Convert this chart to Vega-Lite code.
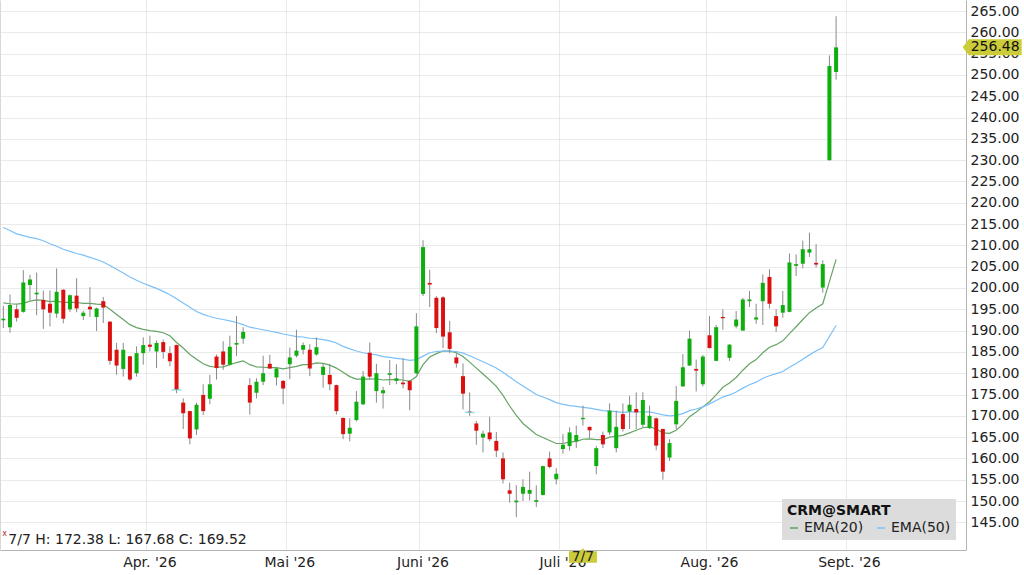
{
  "$schema": "https://vega.github.io/schema/vega-lite/v6.json",
  "width": 966,
  "height": 550,
  "autosize": "none",
  "padding": {"left": 0, "top": 0, "right": 58, "bottom": 25},
  "background": "white",
  "config": {
    "font": "DejaVu Sans",
    "view": {"stroke": null},
    "legend": {
      "orient": "bottom-right", "direction": "horizontal", "fillColor": "#dcdcdc",
      "padding": 5, "offset": 10, "symbolType": "stroke", "symbolSize": 64,
      "symbolStrokeWidth": 1.5, "labelFontSize": 14, "titleFontSize": 14,
      "titleFontWeight": "bold", "labelColor": "#222", "titleColor": "#111",
      "columnPadding": 10, "titlePadding": 3, "labelOffset": 3
    }
  },
  "datasets": {
    "px": [
      {"d": "2026-03-02", "o": 192.4, "h": 195.8, "l": 190.6, "c": 192.8, "e20": 196.5, "e50": 214.2},
      {"d": "2026-03-03", "o": 190.8, "h": 198.5, "l": 189.5, "c": 196.0, "e20": 196.3, "e50": 213.5},
      {"d": "2026-03-04", "o": 195.0, "h": 196.1, "l": 192.1, "c": 193.0, "e20": 196.2, "e50": 212.7},
      {"d": "2026-03-05", "o": 194.4, "h": 204.2, "l": 194.2, "c": 201.3, "e20": 196.4, "e50": 212.3},
      {"d": "2026-03-06", "o": 200.7, "h": 203.1, "l": 197.1, "c": 202.0, "e20": 196.9, "e50": 211.9},
      {"d": "2026-03-09", "o": 198.5, "h": 203.6, "l": 193.6, "c": 198.9, "e20": 197.2, "e50": 211.6},
      {"d": "2026-03-10", "o": 197.2, "h": 199.4, "l": 190.4, "c": 195.0, "e20": 197.1, "e50": 211.1},
      {"d": "2026-03-11", "o": 196.3, "h": 199.4, "l": 191.0, "c": 194.2, "e20": 196.8, "e50": 210.4},
      {"d": "2026-03-12", "o": 194.0, "h": 204.6, "l": 193.0, "c": 199.1, "e20": 196.9, "e50": 209.8},
      {"d": "2026-03-13", "o": 199.6, "h": 199.7, "l": 191.7, "c": 192.8, "e20": 196.6, "e50": 209.1},
      {"d": "2026-03-16", "o": 195.0, "h": 198.5, "l": 194.4, "c": 198.3, "e20": 196.7, "e50": 208.6},
      {"d": "2026-03-17", "o": 198.2, "h": 202.3, "l": 194.3, "c": 195.2, "e20": 196.6, "e50": 208.1},
      {"d": "2026-03-18", "o": 193.4, "h": 194.6, "l": 192.5, "c": 194.2, "e20": 196.4, "e50": 207.7},
      {"d": "2026-03-19", "o": 195.6, "h": 200.2, "l": 193.2, "c": 195.0, "e20": 196.4, "e50": 207.2},
      {"d": "2026-03-20", "o": 193.2, "h": 195.4, "l": 189.9, "c": 195.2, "e20": 196.2, "e50": 206.7},
      {"d": "2026-03-23", "o": 196.9, "h": 197.9, "l": 191.8, "c": 195.4, "e20": 196.1, "e50": 206.1},
      {"d": "2026-03-24", "o": 192.1, "h": 192.2, "l": 182.0, "c": 182.9, "e20": 195.0, "e50": 205.3},
      {"d": "2026-03-25", "o": 185.5, "h": 187.1, "l": 179.6, "c": 181.8, "e20": 193.8, "e50": 204.4},
      {"d": "2026-03-26", "o": 181.0, "h": 187.1, "l": 179.2, "c": 185.5, "e20": 192.6, "e50": 203.5},
      {"d": "2026-03-27", "o": 184.0, "h": 184.1, "l": 178.2, "c": 178.5, "e20": 191.4, "e50": 202.6},
      {"d": "2026-03-30", "o": 180.0, "h": 186.3, "l": 179.2, "c": 184.7, "e20": 190.7, "e50": 201.8},
      {"d": "2026-03-31", "o": 184.7, "h": 188.4, "l": 182.0, "c": 186.6, "e20": 190.3, "e50": 201.1},
      {"d": "2026-04-01", "o": 186.7, "h": 188.8, "l": 185.1, "c": 186.2, "e20": 190.0, "e50": 200.5},
      {"d": "2026-04-02", "o": 185.1, "h": 187.7, "l": 181.2, "c": 187.1, "e20": 189.8, "e50": 199.9},
      {"d": "2026-04-06", "o": 187.3, "h": 187.9, "l": 183.4, "c": 185.0, "e20": 189.5, "e50": 199.2},
      {"d": "2026-04-07", "o": 184.7, "h": 186.3, "l": 181.6, "c": 182.8, "e20": 188.8, "e50": 198.4},
      {"d": "2026-04-08", "o": 186.6, "h": 186.7, "l": 175.3, "c": 176.1, "e20": 187.2, "e50": 197.5},
      {"d": "2026-04-09", "o": 173.1, "h": 174.1, "l": 166.9, "c": 170.6, "e20": 185.9, "e50": 196.5},
      {"d": "2026-04-10", "o": 171.1, "h": 171.2, "l": 163.3, "c": 164.7, "e20": 184.4, "e50": 195.5},
      {"d": "2026-04-13", "o": 166.8, "h": 173.1, "l": 165.5, "c": 172.6, "e20": 183.3, "e50": 194.5},
      {"d": "2026-04-14", "o": 174.9, "h": 177.4, "l": 170.2, "c": 171.1, "e20": 182.2, "e50": 193.8},
      {"d": "2026-04-15", "o": 174.0, "h": 179.6, "l": 172.7, "c": 177.4, "e20": 181.6, "e50": 193.3},
      {"d": "2026-04-16", "o": 183.9, "h": 184.4, "l": 178.5, "c": 181.2, "e20": 181.4, "e50": 192.9},
      {"d": "2026-04-17", "o": 185.1, "h": 187.5, "l": 180.8, "c": 182.0, "e20": 181.5, "e50": 192.6},
      {"d": "2026-04-20", "o": 182.0, "h": 188.8, "l": 181.8, "c": 186.2, "e20": 182.0, "e50": 192.3},
      {"d": "2026-04-21", "o": 186.7, "h": 193.4, "l": 184.0, "c": 187.1, "e20": 182.5, "e50": 191.9},
      {"d": "2026-04-22", "o": 188.1, "h": 190.8, "l": 186.9, "c": 189.7, "e20": 182.9, "e50": 191.4},
      {"d": "2026-04-23", "o": 177.2, "h": 178.8, "l": 170.3, "c": 173.1, "e20": 182.0, "e50": 190.8},
      {"d": "2026-04-24", "o": 175.4, "h": 178.8, "l": 174.1, "c": 178.0, "e20": 181.5, "e50": 190.5},
      {"d": "2026-04-27", "o": 178.0, "h": 184.1, "l": 177.2, "c": 180.0, "e20": 181.4, "e50": 190.2},
      {"d": "2026-04-28", "o": 182.2, "h": 184.3, "l": 181.0, "c": 181.1, "e20": 181.3, "e50": 189.9},
      {"d": "2026-04-29", "o": 179.0, "h": 181.5, "l": 177.1, "c": 181.1, "e20": 181.3, "e50": 189.6},
      {"d": "2026-04-30", "o": 178.2, "h": 178.4, "l": 172.7, "c": 176.4, "e20": 181.0, "e50": 189.2},
      {"d": "2026-05-01", "o": 182.1, "h": 186.0, "l": 178.6, "c": 183.7, "e20": 181.3, "e50": 188.9},
      {"d": "2026-05-04", "o": 184.1, "h": 190.2, "l": 183.7, "c": 185.3, "e20": 181.6, "e50": 188.6},
      {"d": "2026-05-05", "o": 185.5, "h": 187.2, "l": 184.4, "c": 186.6, "e20": 182.0, "e50": 188.5},
      {"d": "2026-05-06", "o": 185.5, "h": 186.8, "l": 179.3, "c": 181.1, "e20": 182.0, "e50": 188.2},
      {"d": "2026-05-07", "o": 184.4, "h": 188.4, "l": 184.1, "c": 186.1, "e20": 182.4, "e50": 188.1},
      {"d": "2026-05-08", "o": 179.6, "h": 182.3, "l": 176.6, "c": 181.5, "e20": 182.3, "e50": 187.9},
      {"d": "2026-05-11", "o": 179.6, "h": 182.2, "l": 176.0, "c": 177.4, "e20": 181.9, "e50": 187.6},
      {"d": "2026-05-12", "o": 177.2, "h": 177.3, "l": 170.3, "c": 171.1, "e20": 181.2, "e50": 187.1},
      {"d": "2026-05-13", "o": 169.5, "h": 169.6, "l": 164.5, "c": 165.7, "e20": 180.2, "e50": 186.3},
      {"d": "2026-05-14", "o": 165.8, "h": 169.4, "l": 164.0, "c": 167.2, "e20": 179.2, "e50": 185.7},
      {"d": "2026-05-15", "o": 169.0, "h": 175.8, "l": 168.7, "c": 173.3, "e20": 178.6, "e50": 185.2},
      {"d": "2026-05-18", "o": 172.7, "h": 180.5, "l": 172.5, "c": 179.2, "e20": 178.6, "e50": 184.8},
      {"d": "2026-05-19", "o": 184.8, "h": 187.2, "l": 178.6, "c": 179.2, "e20": 178.6, "e50": 184.5},
      {"d": "2026-05-20", "o": 175.8, "h": 182.2, "l": 173.1, "c": 180.0, "e20": 178.7, "e50": 184.3},
      {"d": "2026-05-21", "o": 175.3, "h": 176.8, "l": 171.7, "c": 176.0, "e20": 178.4, "e50": 183.9},
      {"d": "2026-05-22", "o": 179.6, "h": 183.1, "l": 177.2, "c": 180.0, "e20": 178.5, "e50": 183.7},
      {"d": "2026-05-26", "o": 178.2, "h": 182.1, "l": 177.4, "c": 178.8, "e20": 178.5, "e50": 183.5},
      {"d": "2026-05-27", "o": 177.8, "h": 183.5, "l": 176.4, "c": 177.4, "e20": 178.4, "e50": 183.3},
      {"d": "2026-05-28", "o": 178.2, "h": 178.3, "l": 171.3, "c": 176.0, "e20": 178.1, "e50": 183.0},
      {"d": "2026-05-29", "o": 180.0, "h": 194.1, "l": 179.7, "c": 191.0, "e20": 179.2, "e50": 183.2},
      {"d": "2026-06-01", "o": 198.6, "h": 211.2, "l": 198.1, "c": 209.6, "e20": 182.0, "e50": 184.0},
      {"d": "2026-06-02", "o": 201.2, "h": 204.3, "l": 195.5, "c": 200.8, "e20": 183.8, "e50": 184.8},
      {"d": "2026-06-03", "o": 197.7, "h": 198.1, "l": 189.4, "c": 190.6, "e20": 184.6, "e50": 185.1},
      {"d": "2026-06-04", "o": 197.8, "h": 198.1, "l": 185.9, "c": 188.6, "e20": 185.2, "e50": 185.2},
      {"d": "2026-06-05", "o": 189.6, "h": 192.3, "l": 184.7, "c": 185.7, "e20": 185.2, "e50": 185.2},
      {"d": "2026-06-08", "o": 183.7, "h": 184.7, "l": 181.3, "c": 182.3, "e20": 184.8, "e50": 185.1},
      {"d": "2026-06-09", "o": 179.3, "h": 182.3, "l": 171.5, "c": 175.2, "e20": 183.9, "e50": 184.7},
      {"d": "2026-06-10", "o": 171.0, "h": 175.5, "l": 170.0, "c": 170.8, "e20": 182.6, "e50": 184.1},
      {"d": "2026-06-11", "o": 168.2, "h": 168.8, "l": 163.2, "c": 166.5, "e20": 181.2, "e50": 183.4},
      {"d": "2026-06-12", "o": 164.9, "h": 166.5, "l": 161.4, "c": 165.8, "e20": 179.8, "e50": 182.7},
      {"d": "2026-06-15", "o": 166.1, "h": 169.8, "l": 164.0, "c": 164.5, "e20": 178.4, "e50": 182.0},
      {"d": "2026-06-16", "o": 164.1, "h": 166.2, "l": 160.3, "c": 161.8, "e20": 176.9, "e50": 181.2},
      {"d": "2026-06-17", "o": 160.0, "h": 161.4, "l": 154.1, "c": 155.1, "e20": 174.8, "e50": 180.2},
      {"d": "2026-06-18", "o": 152.5, "h": 154.3, "l": 149.6, "c": 151.7, "e20": 172.3, "e50": 179.1},
      {"d": "2026-06-22", "o": 149.7, "h": 153.7, "l": 146.2, "c": 150.1, "e20": 170.1, "e50": 178.0},
      {"d": "2026-06-23", "o": 151.7, "h": 155.1, "l": 150.0, "c": 153.3, "e20": 168.2, "e50": 177.0},
      {"d": "2026-06-24", "o": 151.7, "h": 156.9, "l": 150.1, "c": 152.6, "e20": 166.9, "e50": 176.0},
      {"d": "2026-06-25", "o": 149.8, "h": 153.7, "l": 148.6, "c": 150.2, "e20": 165.6, "e50": 175.0},
      {"d": "2026-06-26", "o": 151.4, "h": 158.3, "l": 151.3, "c": 158.2, "e20": 164.9, "e50": 174.4},
      {"d": "2026-06-29", "o": 160.0, "h": 161.6, "l": 157.7, "c": 158.0, "e20": 164.2, "e50": 173.8},
      {"d": "2026-06-30", "o": 155.1, "h": 157.7, "l": 153.9, "c": 156.4, "e20": 163.5, "e50": 173.1},
      {"d": "2026-07-01", "o": 162.2, "h": 165.7, "l": 161.1, "c": 163.2, "e20": 163.5, "e50": 172.7},
      {"d": "2026-07-02", "o": 162.9, "h": 167.3, "l": 161.8, "c": 166.1, "e20": 163.8, "e50": 172.4},
      {"d": "2026-07-06", "o": 164.0, "h": 167.7, "l": 162.4, "c": 165.5, "e20": 164.0, "e50": 172.2},
      {"d": "2026-07-07", "o": 169.2, "h": 172.38, "l": 167.68, "c": 169.52, "e20": 164.5, "e50": 172.0},
      {"d": "2026-07-08", "o": 167.4, "h": 167.5, "l": 164.7, "c": 166.6, "e20": 164.6, "e50": 171.8},
      {"d": "2026-07-09", "o": 158.2, "h": 162.9, "l": 156.3, "c": 162.4, "e20": 164.4, "e50": 171.5},
      {"d": "2026-07-10", "o": 165.5, "h": 166.3, "l": 162.4, "c": 163.3, "e20": 164.4, "e50": 171.2},
      {"d": "2026-07-13", "o": 166.1, "h": 172.9, "l": 165.5, "c": 171.2, "e20": 165.0, "e50": 171.1},
      {"d": "2026-07-14", "o": 162.4, "h": 171.2, "l": 161.4, "c": 167.4, "e20": 165.2, "e50": 171.0},
      {"d": "2026-07-15", "o": 170.4, "h": 172.9, "l": 166.3, "c": 166.9, "e20": 165.4, "e50": 170.8},
      {"d": "2026-07-16", "o": 171.0, "h": 174.7, "l": 166.9, "c": 172.6, "e20": 166.0, "e50": 170.9},
      {"d": "2026-07-17", "o": 171.6, "h": 175.5, "l": 166.9, "c": 170.8, "e20": 166.6, "e50": 170.9},
      {"d": "2026-07-20", "o": 167.9, "h": 175.5, "l": 167.3, "c": 173.7, "e20": 167.2, "e50": 170.9},
      {"d": "2026-07-21", "o": 167.1, "h": 172.4, "l": 166.9, "c": 170.0, "e20": 167.4, "e50": 170.9},
      {"d": "2026-07-22", "o": 169.4, "h": 169.6, "l": 161.9, "c": 163.0, "e20": 166.9, "e50": 170.6},
      {"d": "2026-07-23", "o": 166.9, "h": 167.0, "l": 155.0, "c": 156.9, "e20": 166.0, "e50": 170.2},
      {"d": "2026-07-24", "o": 160.2, "h": 164.5, "l": 159.4, "c": 163.6, "e20": 165.9, "e50": 170.0},
      {"d": "2026-07-27", "o": 168.0, "h": 177.0, "l": 166.9, "c": 173.5, "e20": 166.6, "e50": 170.1},
      {"d": "2026-07-28", "o": 176.9, "h": 184.5, "l": 176.8, "c": 181.4, "e20": 168.0, "e50": 170.5},
      {"d": "2026-07-29", "o": 181.8, "h": 190.0, "l": 181.7, "c": 188.1, "e20": 169.8, "e50": 171.2},
      {"d": "2026-07-30", "o": 181.0, "h": 183.2, "l": 175.7, "c": 180.6, "e20": 170.9, "e50": 171.6},
      {"d": "2026-07-31", "o": 177.4, "h": 184.3, "l": 176.9, "c": 183.9, "e20": 172.1, "e50": 172.1},
      {"d": "2026-08-03", "o": 188.9, "h": 193.4, "l": 185.8, "c": 185.9, "e20": 173.3, "e50": 172.8},
      {"d": "2026-08-04", "o": 182.9, "h": 191.3, "l": 182.8, "c": 190.8, "e20": 174.9, "e50": 173.6},
      {"d": "2026-08-05", "o": 193.2, "h": 195.0, "l": 190.2, "c": 192.9, "e20": 176.7, "e50": 174.4},
      {"d": "2026-08-06", "o": 183.6, "h": 186.8, "l": 182.9, "c": 186.7, "e20": 177.7, "e50": 174.9},
      {"d": "2026-08-07", "o": 191.0, "h": 194.6, "l": 190.5, "c": 192.6, "e20": 179.0, "e50": 175.6},
      {"d": "2026-08-10", "o": 190.0, "h": 197.7, "l": 190.0, "c": 197.3, "e20": 180.7, "e50": 176.5},
      {"d": "2026-08-11", "o": 196.9, "h": 199.3, "l": 195.5, "c": 197.3, "e20": 182.2, "e50": 177.3},
      {"d": "2026-08-12", "o": 192.6, "h": 196.3, "l": 191.6, "c": 193.1, "e20": 183.2, "e50": 177.9},
      {"d": "2026-08-13", "o": 196.9, "h": 203.2, "l": 191.3, "c": 201.2, "e20": 184.8, "e50": 178.8},
      {"d": "2026-08-14", "o": 202.6, "h": 204.4, "l": 195.2, "c": 196.3, "e20": 186.1, "e50": 179.4},
      {"d": "2026-08-17", "o": 193.4, "h": 195.0, "l": 189.7, "c": 191.0, "e20": 186.7, "e50": 179.9},
      {"d": "2026-08-18", "o": 194.2, "h": 199.3, "l": 193.0, "c": 196.0, "e20": 187.6, "e50": 180.4},
      {"d": "2026-08-19", "o": 194.4, "h": 208.1, "l": 194.3, "c": 206.0, "e20": 189.3, "e50": 181.4},
      {"d": "2026-08-20", "o": 205.2, "h": 207.9, "l": 202.8, "c": 205.6, "e20": 190.9, "e50": 182.3},
      {"d": "2026-08-21", "o": 205.7, "h": 211.1, "l": 204.6, "c": 209.1, "e20": 192.6, "e50": 183.3},
      {"d": "2026-08-24", "o": 208.3, "h": 213.0, "l": 207.3, "c": 209.1, "e20": 194.2, "e50": 184.3},
      {"d": "2026-08-25", "o": 205.9, "h": 210.3, "l": 204.8, "c": 205.5, "e20": 195.3, "e50": 185.2},
      {"d": "2026-08-26", "o": 200.1, "h": 206.5, "l": 198.9, "c": 205.6, "e20": 196.3, "e50": 186.0},
      {"d": "2026-08-27", "o": 230.0, "h": 254.6, "l": 229.9, "c": 252.1, "e20": 201.5, "e50": 188.6},
      {"d": "2026-08-28", "o": 250.7, "h": 263.8, "l": 248.9, "c": 256.48, "e20": 206.7, "e50": 191.2}
    ],
    "flags": [
      {"d": "2026-04-08", "v": 176.1},
      {"d": "2026-06-10", "v": 170.8}
    ]
  },
  "data": {"name": "px"},
  "layer": [
    {
      "mark": {"type": "line", "strokeWidth": 1.2},
      "encoding": {
        "x": {
          "field": "d", "type": "ordinal", "title": null,
          "scale": {
            "type": "band", "paddingInner": 0, "paddingOuter": 0,
            "domain": [
              "2026-03-02","2026-03-03","2026-03-04","2026-03-05","2026-03-06","2026-03-09","2026-03-10","2026-03-11","2026-03-12","2026-03-13",
              "2026-03-16","2026-03-17","2026-03-18","2026-03-19","2026-03-20","2026-03-23","2026-03-24","2026-03-25","2026-03-26","2026-03-27",
              "2026-03-30","2026-03-31","2026-04-01","2026-04-02","2026-04-06","2026-04-07","2026-04-08","2026-04-09","2026-04-10","2026-04-13",
              "2026-04-14","2026-04-15","2026-04-16","2026-04-17","2026-04-20","2026-04-21","2026-04-22","2026-04-23","2026-04-24","2026-04-27",
              "2026-04-28","2026-04-29","2026-04-30","2026-05-01","2026-05-04","2026-05-05","2026-05-06","2026-05-07","2026-05-08","2026-05-11",
              "2026-05-12","2026-05-13","2026-05-14","2026-05-15","2026-05-18","2026-05-19","2026-05-20","2026-05-21","2026-05-22","2026-05-26",
              "2026-05-27","2026-05-28","2026-05-29","2026-06-01","2026-06-02","2026-06-03","2026-06-04","2026-06-05","2026-06-08","2026-06-09",
              "2026-06-10","2026-06-11","2026-06-12","2026-06-15","2026-06-16","2026-06-17","2026-06-18","2026-06-22","2026-06-23","2026-06-24",
              "2026-06-25","2026-06-26","2026-06-29","2026-06-30","2026-07-01","2026-07-02","2026-07-06","2026-07-07","2026-07-08","2026-07-09",
              "2026-07-10","2026-07-13","2026-07-14","2026-07-15","2026-07-16","2026-07-17","2026-07-20","2026-07-21","2026-07-22","2026-07-23",
              "2026-07-24","2026-07-27","2026-07-28","2026-07-29","2026-07-30","2026-07-31","2026-08-03","2026-08-04","2026-08-05","2026-08-06",
              "2026-08-07","2026-08-10","2026-08-11","2026-08-12","2026-08-13","2026-08-14","2026-08-17","2026-08-18","2026-08-19","2026-08-20",
              "2026-08-21","2026-08-24","2026-08-25","2026-08-26","2026-08-27","2026-08-28","2026-08-31","2026-09-01","2026-09-02","2026-09-03",
              "2026-09-04","2026-09-08","2026-09-09","2026-09-10","2026-09-11","2026-09-14","2026-09-15","2026-09-16","2026-09-17","2026-09-18",
              "2026-09-21","2026-09-22","2026-09-23","2026-09-24","2026-09-25"
            ]
          },
          "axis": {
            "orient": "bottom",
            "values": ["2026-04-01", "2026-05-01", "2026-06-01", "2026-07-01", "2026-08-03", "2026-09-01"],
            "bandPosition": 0,
            "labelExpr": "datum.value == '2026-04-01' ? \"Apr. '26\" : datum.value == '2026-05-01' ? \"Mai '26\" : datum.value == '2026-06-01' ? \"Juni '26\" : datum.value == '2026-07-01' ? \"Juli '26\" : datum.value == '2026-08-03' ? \"Aug. '26\" : \"Sept. '26\"",
            "labelOverlap": false,
            "labelAngle": 0, "labelFontSize": 14, "labelColor": "#222", "labelPadding": 5,
            "ticks": false, "grid": true, "gridColor": "#d4d4d4", "gridDash": [1, 1],
            "domain": true, "domainColor": "#b4b4b4"
          }
        },
        "y": {
          "field": "e20", "type": "quantitative", "title": null,
          "scale": {"domain": [138.5, 267.6], "nice": false, "zero": false},
          "axis": {
            "orient": "right",
            "values": [145, 150, 155, 160, 165, 170, 175, 180, 185, 190, 195, 200, 205, 210, 215, 220, 225, 230, 235, 240, 245, 250, 255, 260, 265],
            "format": ".2f", "labelFontSize": 14, "labelColor": "#222", "labelPadding": 4,
            "ticks": false, "grid": true, "gridColor": "#d4d4d4", "gridDash": [1, 1],
            "domainColor": "#b4b4b4"
          }
        },
        "color": {
          "datum": "EMA(20)",
          "scale": {"domain": ["EMA(20)", "EMA(50)"], "range": ["#66a466", "#7cc0f8"]},
          "legend": {"title": "CRM@SMART"}
        }
      }
    },
    {
      "mark": {"type": "line", "strokeWidth": 1.2},
      "encoding": {
        "x": {"field": "d", "type": "ordinal"},
        "y": {"field": "e50", "type": "quantitative", "title": null, "axis": null},
        "color": {
          "datum": "EMA(50)",
          "scale": {"domain": ["EMA(20)", "EMA(50)"], "range": ["#66a466", "#7cc0f8"]},
          "legend": {"title": "CRM@SMART"}
        }
      }
    },
    {
      "mark": {"type": "rule", "color": "#8a8a8a", "strokeWidth": 1},
      "encoding": {
        "x": {"field": "d", "type": "ordinal"},
        "y": {
          "field": "l", "type": "quantitative", "title": null,
          "axis": {"orient": "left", "labels": false, "ticks": false, "grid": false, "domainColor": "#d8d8d8"}
        },
        "y2": {"field": "h"}
      }
    },
    {
      "mark": {"type": "bar", "width": 4},
      "encoding": {
        "x": {"field": "d", "type": "ordinal"},
        "y": {"field": "o", "type": "quantitative", "title": null, "axis": null},
        "y2": {"field": "c"},
        "color": {"condition": {"test": "datum.c >= datum.o", "value": "#0fae0f"}, "value": "#dd1010"}
      }
    },
    {
      "data": {"name": "flags"},
      "mark": {"type": "tick", "color": "#5fd3e0", "thickness": 1.5, "size": 10},
      "encoding": {
        "x": {"field": "d", "type": "ordinal"},
        "y": {"field": "v", "type": "quantitative", "title": null, "axis": null}
      }
    },
    {
      "data": {"values": [{"t": "7/7 H: 172.38 L: 167.68 C: 169.52"}]},
      "mark": {"type": "text", "align": "left", "baseline": "middle", "dx": 5, "fontSize": 14, "color": "#222"},
      "encoding": {
        "x": {"datum": "2026-03-02", "type": "ordinal"},
        "y": {"datum": 140.85, "type": "quantitative", "axis": null},
        "text": {"field": "t"}
      }
    },
    {
      "data": {"values": [{"t": "x"}]},
      "mark": {"type": "text", "align": "left", "baseline": "middle", "dx": -1, "fontSize": 8, "color": "#b03030"},
      "encoding": {
        "x": {"datum": "2026-03-02", "type": "ordinal"},
        "y": {"datum": 142.3, "type": "quantitative", "axis": null},
        "text": {"field": "t"}
      }
    },
    {
      "data": {"values": [{"t": "7/7"}]},
      "mark": {"type": "point", "shape": "M-14,-5.5L-3,-5.5L0,-8.5L3,-5.5L14,-5.5L14,6L-14,6Z", "size": 4, "filled": true, "opacity": 1, "color": "#cccc3a"},
      "encoding": {
        "x": {"datum": "2026-07-07", "type": "ordinal"},
        "y": {"datum": 136.9, "type": "quantitative", "axis": null}
      }
    },
    {
      "data": {"values": [{"t": "7/7"}]},
      "mark": {"type": "text", "align": "center", "baseline": "middle", "fontSize": 14, "color": "#222"},
      "encoding": {
        "x": {"datum": "2026-07-07", "type": "ordinal"},
        "y": {"datum": 136.9, "type": "quantitative", "axis": null},
        "text": {"field": "t"}
      }
    },
    {
      "data": {"values": [{"t": "256.48"}]},
      "mark": {"type": "point", "shape": "M0,0L6,-8L59,-8L59,8L6,8Z", "size": 4, "filled": true, "opacity": 1, "color": "#cccc3a"},
      "encoding": {
        "x": {"datum": "2026-09-25", "type": "ordinal"},
        "y": {"datum": 256.48, "type": "quantitative", "axis": null}
      }
    },
    {
      "data": {"values": [{"t": "256.48"}]},
      "mark": {"type": "text", "align": "left", "baseline": "middle", "dx": 8, "fontSize": 14, "color": "#111"},
      "encoding": {
        "x": {"datum": "2026-09-25", "type": "ordinal"},
        "y": {"datum": 256.48, "type": "quantitative", "axis": null},
        "text": {"field": "t"}
      }
    }
  ],
  "resolve": {"axis": {"y": "independent"}}
}
